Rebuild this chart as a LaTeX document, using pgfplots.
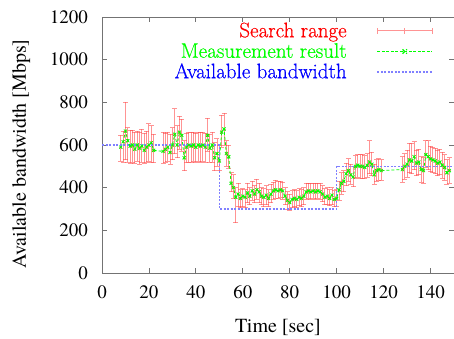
\documentclass[border=0pt]{standalone}
\usepackage{fontspec}
\setmainfont{TeX Gyre Termes}
\newfontfamily\lmr{Latin Modern Roman}[FakeBold=0.6]
\usepackage{pgfplots}
\usepackage{pgfplotstable}
\pgfplotsset{compat=1.18}
\definecolor{srred}{rgb}{1,0.3,0.3}
\definecolor{abblue}{rgb}{0.5,0.5,1}
\definecolor{mgreen}{rgb}{0,1,0}

\pgfplotstableread{
t m lo hi
8 590 525 645
9 615 520 665
10 665 530 800
11 620 520 680
12 595 515 670
13 600 520 670
14 580 515 660
15 600 525 665
16 585 510 660
17 595 520 675
18 575 515 655
19 590 520 665
20 600 525 700
21 610 520 690
22 575 520 650
26 570 515 660
27 580 520 655
28 590 525 660
29 565 510 650
30 600 530 680
31 650 560 770
32 600 540 690
33 660 580 735
34 645 570 720
35 540 480 620
36 590 520 655
37 600 520 660
38 595 520 660
39 600 525 660
40 590 520 655
41 600 525 660
42 595 520 660
43 600 525 660
44 590 520 655
45 645 570 725
46 585 520 650
47 600 520 660
48 540 480 610
49 560 500 630
50 525 480 600
51 660 590 740
52 675 600 750
53 560 500 620
54 545 490 600
55 420 380 470
56 400 350 460
57 355 235 400
58 370 310 420
59 350 305 390
60 360 310 395
61 355 305 390
62 375 330 420
63 360 320 400
64 385 340 430
65 370 330 410
66 390 345 440
67 380 330 420
68 360 320 400
69 355 310 395
70 365 320 410
71 350 310 390
72 370 330 415
73 385 345 425
74 390 350 435
75 385 350 430
76 390 355 430
77 385 345 425
78 360 320 400
79 340 300 380
80 330 295 370
81 345 305 385
82 350 310 390
83 345 305 385
84 355 315 395
85 350 310 390
86 360 320 400
87 380 345 420
88 385 350 420
89 380 345 420
90 385 350 420
91 380 345 420
92 385 350 420
93 380 345 420
94 370 335 410
95 355 320 395
96 360 320 400
97 350 315 390
98 365 320 400
99 345 310 385
100 350 310 390
101 390 340 430
102 420 370 470
103 430 380 480
104 465 410 515
105 480 430 535
106 460 415 510
107 450 405 500
108 500 445 550
109 505 450 555
110 500 445 555
111 500 445 555
112 495 445 550
113 505 450 560
114 520 465 620
115 510 455 565
116 460 415 510
117 480 430 530
118 485 435 535
119 480 435 530
128 485 425 545
129 500 440 560
130 510 450 575
131 530 470 605
132 525 465 605
133 545 485 615
134 515 455 575
135 520 460 580
136 485 425 545
137 480 420 540
138 555 495 620
139 545 485 620
140 535 475 595
141 530 470 590
142 525 465 585
143 515 455 575
144 520 460 580
145 505 445 565
146 495 435 555
147 470 415 530
148 480 420 540
}\meas

\begin{document}
\begin{tikzpicture}[font=\rmfamily\fontsize{20}{24}\selectfont]
\path[use as bounding box] (0,0) rectangle (454pt,338pt);
\begin{axis}[
  at={(102pt,65pt)}, anchor=south west,
  scale only axis, width=352pt, height=256pt,
  xmin=0, xmax=150, ymin=0, ymax=1200,
  xtick={0,20,...,140}, ytick={0,200,...,1200},
  tick align=inside, major tick length=5pt,
  axis line style={black!55, line width=0.8pt},
  tick style={black!55, line width=0.8pt},
  /pgf/number format/assume math mode=true,
  /pgf/number format/1000 sep={},
  scaled ticks=false,
  tick label style={font=\rmfamily\fontsize{19}{22}\selectfont},
  xticklabel style={yshift=-9pt},
  yticklabel style={xshift=-10.5pt},
  xlabel={Time [sec]},
  ylabel={Available bandwidth [Mbps]},
  xlabel style={at={([yshift=-59pt]axis description cs:0.5,0)}, anchor=base},
  ylabel style={at={([xshift=-76pt]axis description cs:0,0.465)}, anchor=base},
  legend plot pos=right,
  legend cell align=right,
  legend style={draw=none, fill=none, inner sep=0pt, outer sep=0pt,
    font=\lmr\fontsize{21}{24}\selectfont,
    at={(axis description cs:0.9403,0.9795)}, anchor=north east,
    column sep=30pt, row sep=3pt,
    nodes={inner sep=0pt, text height=15pt, text depth=2.5pt}},
]
\addplot[color=srred, only marks, mark=+, mark size=1.5pt, opacity=0.6,
  error bars/.cd, y dir=both, y explicit,
  error bar style={line width=0.9pt},
  error mark options={rotate=90, mark size=2.5pt, line width=0.9pt},
  /pgfplots/legend image code/.code={
    \draw[draw=srred, line width=1pt] (0pt,0pt) -- (55pt,0pt)
      (0pt,-3pt) -- (0pt,3pt) (27.5pt,-3pt) -- (27.5pt,3pt) (55pt,-3pt) -- (55pt,3pt);}]
  table[x=t, y=m, y error plus expr=\thisrow{hi}-\thisrow{m}, y error minus expr=\thisrow{m}-\thisrow{lo}] {\meas};
\addlegendentry{\lmr\textcolor{red}{Search range}}
\addplot[color=mgreen, line width=0.8pt, dash pattern=on 3pt off 2pt, mark=x, mark size=2.2pt,
  mark options={solid},
  legend image code/.code={
    \draw[draw=mgreen, line width=1.3pt, dash pattern=on 3pt off 1.5pt] (0pt,0pt) -- (55pt,0pt);
    \draw[draw=mgreen, line width=1.2pt] (25.3pt,-2.2pt) -- (29.7pt,2.2pt) (25.3pt,2.2pt) -- (29.7pt,-2.2pt);}]
  table[x=t, y=m] {\meas};
\addlegendentry{\lmr\textcolor{mgreen}{Measurement result}}
\addplot[color=abblue, line width=1.1pt, dash pattern=on 2pt off 1.5pt,
  legend image code/.code={
    \draw[draw=abblue, line width=1.1pt, dash pattern=on 2pt off 1.5pt] (0pt,0pt) -- (55pt,0pt);}]
  coordinates {(0,600) (50,600) (50,300) (100,300) (100,500) (150,500)};
\addlegendentry{\lmr\textcolor{blue}{Available bandwidth}}
\end{axis}
\end{tikzpicture}
\end{document}
